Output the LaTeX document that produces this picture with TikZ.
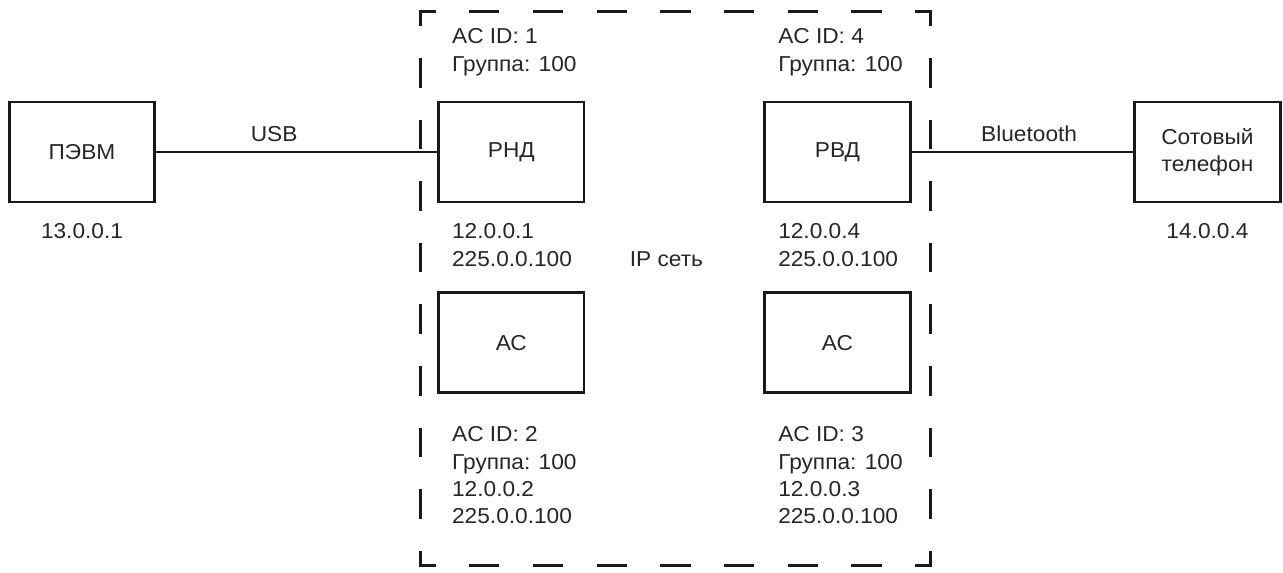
\documentclass[tikz,border=0pt]{standalone}
\usepackage{fontspec}
\setmainfont{Liberation Sans}[FakeStretch=1.05]
\usetikzlibrary{positioning,calc}

\begin{document}
\begin{tikzpicture}[font=\fontsize{16.2pt}{20.5pt}\selectfont,
  unit/.style={draw=black!90,line width=2.2pt,minimum width=109pt,minimum height=75pt,inner sep=0pt,align=center,text=black!85},
  txt/.style={inner sep=0pt,align=left,text=black!85},
  link/.style={draw=black!90,line width=2.2pt},
  hside/.style={draw=black!90,line width=2.2pt,line cap=rect,dash pattern=on 20.5pt off 27.26pt,dash phase=10.25pt},
  vside/.style={draw=black!90,line width=2.2pt,line cap=rect,dash pattern=on 20pt off 26.2pt,dash phase=10pt}]
\useasboundingbox (-61.5pt,114pt) rectangle (900.75pt,-315pt);
\node[unit] (pevm) {ПЭВМ};
\node[unit,right=210.8pt of pevm] (rnd) {РНД};
\node[unit,right=133.4pt of rnd] (rvd) {РВД};
\node[unit,right=166.3pt of rvd] (phone) {Сотовый\\телефон};
\node[unit,below=66pt of rnd] (acl) {АС};
\node[unit,below=66pt of rvd] (acr) {АС};
\coordinate (fnw) at ($(rnd.north west)+(-12.4pt,67pt)$);
\coordinate (fse) at ($(acr.south east)+(13.9pt,-128.6pt)$);
\draw[hside] (fnw) -- (fnw -| fse);
\draw[hside] (fnw |- fse) -- (fse);
\draw[vside] (fnw) -- (fnw |- fse);
\draw[vside] (fnw -| fse) -- (fse);
\node[txt,anchor=south west] (id1) at ($(rnd.north west)+(11pt,18.5pt)$) {AC ID: 1\\Группа: 100};
\node[txt,anchor=south west] (id4) at ($(rvd.north west)+(11pt,18.5pt)$) {AC ID: 4\\Группа: 100};
\node[txt,anchor=north west] (ip1) at ($(rnd.south west)+(11pt,-15pt)$) {12.0.0.1\\225.0.0.100};
\node[txt,anchor=north west] (ip4) at ($(rvd.south west)+(11pt,-15pt)$) {12.0.0.4\\225.0.0.100};
\node[txt,anchor=base] (net) at ($(rnd.south east)+(60.75pt,-47.1pt)$) {IP сеть};
\node[txt,anchor=north west] (id2) at ($(acl.south west)+(11pt,-24pt)$) {AC ID: 2\\Группа: 100\\12.0.0.2\\225.0.0.100};
\node[txt,anchor=north west] (id3) at ($(acr.south west)+(11pt,-24pt)$) {AC ID: 3\\Группа: 100\\12.0.0.3\\225.0.0.100};
\node[txt,below=15pt of pevm] (addr1) {13.0.0.1};
\node[txt,below=15pt of phone] (addr4) {14.0.0.4};
\draw[link] (pevm) -- node[txt,above=6.75pt,pos=.42] (usb) {USB} (rnd);
\draw[link] (rvd) -- node[txt,above=6.75pt,pos=.53] (bt) {Bluetooth} (phone);
\end{tikzpicture}
\end{document}
